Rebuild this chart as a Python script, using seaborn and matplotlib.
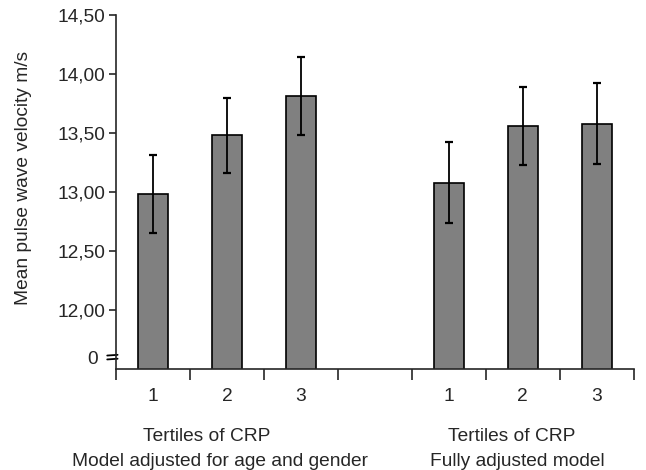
import pandas as pd
import matplotlib
matplotlib.use("Agg")
import matplotlib.pyplot as plt
import seaborn as sns

sns.set_style("ticks")
plt.rcParams['font.family'] = ['Liberation Sans', 'DejaVu Sans']

# data
slots = ["a1", "a2", "a3", "gap", "b1", "b2", "b3"]
bar_slots = ["a1", "a2", "a3", "b1", "b2", "b3"]
means = [12.98, 13.48, 13.81, 13.08, 13.56, 13.58]
errs = [0.33, 0.32, 0.33, 0.34, 0.33, 0.34]
tick_text = ["1", "2", "3", "", "1", "2", "3"]
y_ticks = [11.6, 12.0, 12.5, 13.0, 13.5, 14.0, 14.5]
y_text = ["0", "12,00", "12,50", "13,00", "13,50", "14,00", "14,50"]

df = pd.DataFrame({"slot": bar_slots, "pwv": means})

fs = 13.8

fig = plt.figure(figsize=(6.46, 4.70), dpi=100)
ax = fig.add_axes([0.1796, 0.2149, 0.8014, 0.7532])

sns.barplot(data=df, x="slot", y="pwv", order=slots, color="#808080",
            width=0.4, edgecolor="black", linewidth=1.2, saturation=1,
            errorbar=None, ax=ax)

xpos = [slots.index(s) for s in bar_slots]
ax.errorbar(xpos, means, yerr=errs, fmt="none", ecolor="black",
            elinewidth=1.3, capsize=3, capthick=1.6)

ax.set_xlim(-0.5, 6.5)
ax.set_ylim(11.5, 14.5)
ax.set_yticks(y_ticks)
ax.set_yticklabels(y_text)
ax.set_xticks([i - 0.5 for i in range(8)])
ax.set_xticklabels([])
ax.set_xticks(range(7), minor=True)
ax.set_xticklabels(tick_text, minor=True)
ax.tick_params(axis="x", which="major", length=8, width=1.2, direction="out")
ax.tick_params(axis="x", which="minor", length=0, pad=14, labelsize=fs)
ax.tick_params(axis="y", length=5, width=1.2, labelsize=fs, pad=3)
# the "0" tick is drawn as a break mark instead
zero_tick = ax.yaxis.get_major_ticks()[0]
zero_tick.tick1line.set_visible(False)
zero_tick.set_pad(8)
ax.set_xlabel("")
ax.set_ylabel("Mean pulse wave velocity m/s", fontsize=fs)
ax.yaxis.set_label_coords(-0.162, 0.54)
for s in ["left", "bottom"]:
    ax.spines[s].set_linewidth(1.2)
sns.despine(ax=ax)

# axis break marks
for yy in (0.028, 0.039):
    ax.plot([-0.017, 0.003], [yy - 0.001, yy + 0.001], transform=ax.transAxes,
            color="black", lw=1.3, clip_on=False)

# group labels under the axis
ax.text(0.72, 10.925, "Tertiles of CRP", ha="center", va="center", fontsize=fs)
ax.text(0.9, 10.715, "Model adjusted for age and gender", ha="center",
        va="center", fontsize=fs)
ax.text(4.85, 10.925, "Tertiles of CRP", ha="center", va="center", fontsize=fs)
ax.text(4.92, 10.715, "Fully adjusted model", ha="center",
        va="center", fontsize=fs)

plt.savefig("out.png", dpi=100)
